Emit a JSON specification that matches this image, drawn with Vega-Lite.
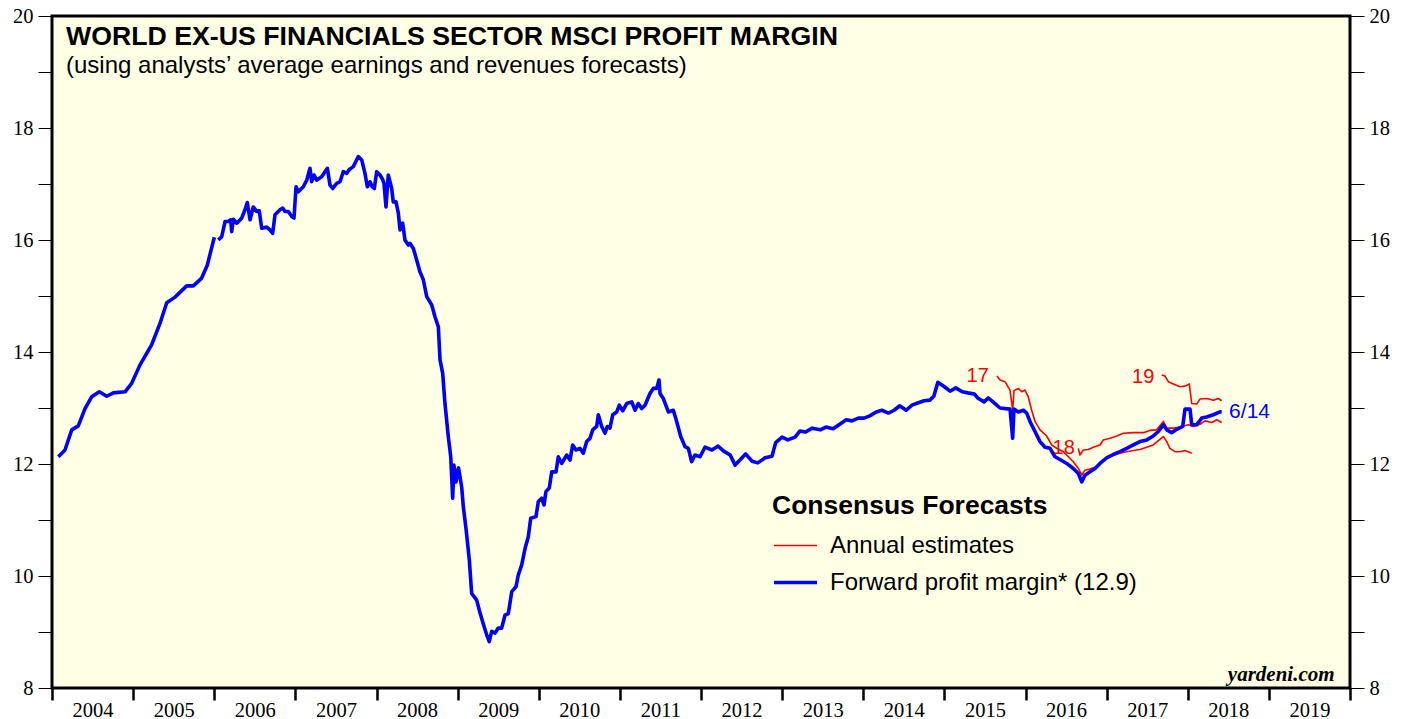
{
  "$schema": "https://vega.github.io/schema/vega-lite/v6.json",
  "width": 1298,
  "height": 672,
  "autosize": {"type": "none"},
  "padding": {"left": 52, "top": 16, "right": 57, "bottom": 31},
  "background": "white",
  "config": {
    "view": {"fill": "#FFFFE5", "stroke": "black", "strokeWidth": 3},
    "axis": {"labelColor": "black", "tickColor": "black", "grid": false, "title": null, "labelFont": "Liberation Serif", "labelFontSize": 20.5}
  },
  "title": {
    "text": "WORLD EX-US FINANCIALS SECTOR MSCI PROFIT MARGIN",
    "subtitle": "(using analysts’ average earnings and revenues forecasts)",
    "anchor": "start", "frame": "group", "orient": "top", "offset": -72, "dx": 14,
    "font": "Liberation Sans", "fontSize": 26.7, "fontWeight": "bold", "color": "black",
    "subtitleFont": "Liberation Sans", "subtitleFontSize": 24, "subtitleColor": "black", "subtitlePadding": 3
  },
  "datasets": {
    "pts": [
      {"k":"fwd","id":"a","x":2004.078,"y":12.13},{"k":"fwd","id":"a","x":2004.160,"y":12.25},{"k":"fwd","id":"a","x":2004.243,"y":12.61},{"k":"fwd","id":"a","x":2004.324,"y":12.68},{"k":"fwd","id":"a","x":2004.407,"y":12.99},{"k":"fwd","id":"a","x":2004.489,"y":13.20},{"k":"fwd","id":"a","x":2004.583,"y":13.29},{"k":"fwd","id":"a","x":2004.674,"y":13.21},{"k":"fwd","id":"a","x":2004.756,"y":13.27},{"k":"fwd","id":"a","x":2004.900,"y":13.29},{"k":"fwd","id":"a","x":2004.982,"y":13.44},{"k":"fwd","id":"a","x":2005.085,"y":13.77},{"k":"fwd","id":"a","x":2005.229,"y":14.13},{"k":"fwd","id":"a","x":2005.331,"y":14.51},{"k":"fwd","id":"a","x":2005.414,"y":14.88},{"k":"fwd","id":"a","x":2005.516,"y":14.98},{"k":"fwd","id":"a","x":2005.660,"y":15.18},{"k":"fwd","id":"a","x":2005.742,"y":15.18},{"k":"fwd","id":"a","x":2005.845,"y":15.32},{"k":"fwd","id":"a","x":2005.914,"y":15.55},{"k":"fwd","id":"a","x":2006.001,"y":16.05},
      {"k":"fwd","id":"b","x":2006.050,"y":16.00},{"k":"fwd","id":"b","x":2006.092,"y":16.06},{"k":"fwd","id":"b","x":2006.133,"y":16.33},{"k":"fwd","id":"b","x":2006.173,"y":16.33},{"k":"fwd","id":"b","x":2006.203,"y":16.36},{"k":"fwd","id":"b","x":2006.215,"y":16.15},{"k":"fwd","id":"b","x":2006.235,"y":16.37},{"k":"fwd","id":"b","x":2006.277,"y":16.30},{"k":"fwd","id":"b","x":2006.338,"y":16.39},{"k":"fwd","id":"b","x":2006.379,"y":16.54},{"k":"fwd","id":"b","x":2006.407,"y":16.67},{"k":"fwd","id":"b","x":2006.441,"y":16.36},{"k":"fwd","id":"b","x":2006.481,"y":16.59},{"k":"fwd","id":"b","x":2006.523,"y":16.51},{"k":"fwd","id":"b","x":2006.555,"y":16.52},{"k":"fwd","id":"b","x":2006.585,"y":16.21},{"k":"fwd","id":"b","x":2006.647,"y":16.23},{"k":"fwd","id":"b","x":2006.687,"y":16.18},{"k":"fwd","id":"b","x":2006.720,"y":16.12},{"k":"fwd","id":"b","x":2006.749,"y":16.45},{"k":"fwd","id":"b","x":2006.810,"y":16.54},{"k":"fwd","id":"b","x":2006.844,"y":16.57},{"k":"fwd","id":"b","x":2006.872,"y":16.51},{"k":"fwd","id":"b","x":2006.913,"y":16.51},{"k":"fwd","id":"b","x":2006.955,"y":16.42},{"k":"fwd","id":"b","x":2006.983,"y":16.39},{"k":"fwd","id":"b","x":2007.008,"y":16.95},{"k":"fwd","id":"b","x":2007.036,"y":16.86},{"k":"fwd","id":"b","x":2007.098,"y":16.95},{"k":"fwd","id":"b","x":2007.140,"y":17.07},{"k":"fwd","id":"b","x":2007.180,"y":17.28},{"k":"fwd","id":"b","x":2007.201,"y":17.04},{"k":"fwd","id":"b","x":2007.230,"y":17.16},{"k":"fwd","id":"b","x":2007.263,"y":17.07},{"k":"fwd","id":"b","x":2007.324,"y":17.13},{"k":"fwd","id":"b","x":2007.365,"y":17.22},{"k":"fwd","id":"b","x":2007.394,"y":17.28},{"k":"fwd","id":"b","x":2007.427,"y":16.98},{"k":"fwd","id":"b","x":2007.460,"y":16.92},{"k":"fwd","id":"b","x":2007.509,"y":17.01},{"k":"fwd","id":"b","x":2007.550,"y":17.04},{"k":"fwd","id":"b","x":2007.591,"y":17.22},{"k":"fwd","id":"b","x":2007.633,"y":17.19},{"k":"fwd","id":"b","x":2007.665,"y":17.26},{"k":"fwd","id":"b","x":2007.714,"y":17.31},{"k":"fwd","id":"b","x":2007.776,"y":17.49},{"k":"fwd","id":"b","x":2007.818,"y":17.43},{"k":"fwd","id":"b","x":2007.858,"y":17.19},{"k":"fwd","id":"b","x":2007.887,"y":16.95},{"k":"fwd","id":"b","x":2007.920,"y":17.04},{"k":"fwd","id":"b","x":2007.948,"y":16.95},{"k":"fwd","id":"b","x":2007.973,"y":16.92},{"k":"fwd","id":"b","x":2008.002,"y":17.22},{"k":"fwd","id":"b","x":2008.043,"y":17.16},{"k":"fwd","id":"b","x":2008.076,"y":17.08},{"k":"fwd","id":"b","x":2008.092,"y":17.01},{"k":"fwd","id":"b","x":2008.117,"y":16.59},{"k":"fwd","id":"b","x":2008.145,"y":17.16},{"k":"fwd","id":"b","x":2008.166,"y":17.04},{"k":"fwd","id":"b","x":2008.187,"y":16.92},{"k":"fwd","id":"b","x":2008.207,"y":16.68},{"k":"fwd","id":"b","x":2008.240,"y":16.68},{"k":"fwd","id":"b","x":2008.269,"y":16.48},{"k":"fwd","id":"b","x":2008.290,"y":16.18},{"k":"fwd","id":"b","x":2008.323,"y":16.30},{"k":"fwd","id":"b","x":2008.351,"y":16.00},{"k":"fwd","id":"b","x":2008.392,"y":15.91},{"k":"fwd","id":"b","x":2008.413,"y":15.94},{"k":"fwd","id":"b","x":2008.454,"y":15.85},{"k":"fwd","id":"b","x":2008.496,"y":15.64},{"k":"fwd","id":"b","x":2008.536,"y":15.43},{"k":"fwd","id":"b","x":2008.577,"y":15.29},{"k":"fwd","id":"b","x":2008.619,"y":14.99},{"k":"fwd","id":"b","x":2008.681,"y":14.84},{"k":"fwd","id":"b","x":2008.721,"y":14.63},{"k":"fwd","id":"b","x":2008.762,"y":14.45},{"k":"fwd","id":"b","x":2008.783,"y":13.86},{"k":"fwd","id":"b","x":2008.816,"y":13.62},{"k":"fwd","id":"b","x":2008.844,"y":13.08},{"k":"fwd","id":"b","x":2008.885,"y":12.49},{"k":"fwd","id":"b","x":2008.915,"y":12.13},{"k":"fwd","id":"b","x":2008.939,"y":11.39},{"k":"fwd","id":"b","x":2008.955,"y":11.98},{"k":"fwd","id":"b","x":2008.980,"y":11.68},{"k":"fwd","id":"b","x":2009.011,"y":11.93},{"k":"fwd","id":"b","x":2009.050,"y":11.59},{"k":"fwd","id":"b","x":2009.070,"y":11.24},{"k":"fwd","id":"b","x":2009.103,"y":10.85},{"k":"fwd","id":"b","x":2009.144,"y":10.29},{"k":"fwd","id":"b","x":2009.173,"y":9.69},{"k":"fwd","id":"b","x":2009.235,"y":9.57},{"k":"fwd","id":"b","x":2009.267,"y":9.39},{"k":"fwd","id":"b","x":2009.309,"y":9.18},{"k":"fwd","id":"b","x":2009.358,"y":8.95},{"k":"fwd","id":"b","x":2009.390,"y":8.83},{"k":"fwd","id":"b","x":2009.420,"y":9.01},{"k":"fwd","id":"b","x":2009.461,"y":8.98},{"k":"fwd","id":"b","x":2009.501,"y":9.07},{"k":"fwd","id":"b","x":2009.543,"y":9.07},{"k":"fwd","id":"b","x":2009.584,"y":9.30},{"k":"fwd","id":"b","x":2009.625,"y":9.33},{"k":"fwd","id":"b","x":2009.667,"y":9.72},{"k":"fwd","id":"b","x":2009.720,"y":9.81},{"k":"fwd","id":"b","x":2009.748,"y":10.02},{"k":"fwd","id":"b","x":2009.790,"y":10.20},{"k":"fwd","id":"b","x":2009.831,"y":10.49},{"k":"fwd","id":"b","x":2009.871,"y":10.70},{"k":"fwd","id":"b","x":2009.901,"y":11.03},{"k":"fwd","id":"b","x":2009.966,"y":11.06},{"k":"fwd","id":"b","x":2009.995,"y":11.33},{"k":"fwd","id":"b","x":2010.036,"y":11.39},{"k":"fwd","id":"b","x":2010.065,"y":11.27},{"k":"fwd","id":"b","x":2010.089,"y":11.51},{"k":"fwd","id":"b","x":2010.130,"y":11.57},{"k":"fwd","id":"b","x":2010.160,"y":11.86},{"k":"fwd","id":"b","x":2010.213,"y":11.86},{"k":"fwd","id":"b","x":2010.241,"y":12.13},{"k":"fwd","id":"b","x":2010.283,"y":12.01},{"k":"fwd","id":"b","x":2010.345,"y":12.16},{"k":"fwd","id":"b","x":2010.385,"y":12.07},{"k":"fwd","id":"b","x":2010.418,"y":12.34},{"k":"fwd","id":"b","x":2010.459,"y":12.25},{"k":"fwd","id":"b","x":2010.508,"y":12.28},{"k":"fwd","id":"b","x":2010.549,"y":12.19},{"k":"fwd","id":"b","x":2010.591,"y":12.40},{"k":"fwd","id":"b","x":2010.632,"y":12.46},{"k":"fwd","id":"b","x":2010.665,"y":12.61},{"k":"fwd","id":"b","x":2010.714,"y":12.67},{"k":"fwd","id":"b","x":2010.734,"y":12.88},{"k":"fwd","id":"b","x":2010.776,"y":12.67},{"k":"fwd","id":"b","x":2010.817,"y":12.55},{"k":"fwd","id":"b","x":2010.845,"y":12.67},{"k":"fwd","id":"b","x":2010.878,"y":12.64},{"k":"fwd","id":"b","x":2010.912,"y":12.88},{"k":"fwd","id":"b","x":2010.961,"y":12.93},{"k":"fwd","id":"b","x":2010.993,"y":13.05},{"k":"fwd","id":"b","x":2011.035,"y":12.95},{"k":"fwd","id":"b","x":2011.084,"y":13.08},{"k":"fwd","id":"b","x":2011.146,"y":13.11},{"k":"fwd","id":"b","x":2011.187,"y":12.96},{"k":"fwd","id":"b","x":2011.227,"y":13.08},{"k":"fwd","id":"b","x":2011.269,"y":12.99},{"k":"fwd","id":"b","x":2011.310,"y":13.05},{"k":"fwd","id":"b","x":2011.371,"y":13.26},{"k":"fwd","id":"b","x":2011.412,"y":13.35},{"k":"fwd","id":"b","x":2011.454,"y":13.35},{"k":"fwd","id":"b","x":2011.482,"y":13.50},{"k":"fwd","id":"b","x":2011.495,"y":13.26},{"k":"fwd","id":"b","x":2011.535,"y":13.17},{"k":"fwd","id":"b","x":2011.597,"y":12.93},{"k":"fwd","id":"b","x":2011.659,"y":12.96},{"k":"fwd","id":"b","x":2011.700,"y":12.76},{"k":"fwd","id":"b","x":2011.750,"y":12.49},{"k":"fwd","id":"b","x":2011.803,"y":12.31},{"k":"fwd","id":"b","x":2011.844,"y":12.28},{"k":"fwd","id":"b","x":2011.885,"y":12.04},{"k":"fwd","id":"b","x":2011.926,"y":12.16},{"k":"fwd","id":"b","x":2011.988,"y":12.13},{"k":"fwd","id":"b","x":2012.050,"y":12.30},{"k":"fwd","id":"b","x":2012.135,"y":12.25},{"k":"fwd","id":"b","x":2012.210,"y":12.32},{"k":"fwd","id":"b","x":2012.280,"y":12.23},{"k":"fwd","id":"b","x":2012.360,"y":12.16},{"k":"fwd","id":"b","x":2012.420,"y":11.98},{"k":"fwd","id":"b","x":2012.480,"y":12.07},{"k":"fwd","id":"b","x":2012.550,"y":12.18},{"k":"fwd","id":"b","x":2012.630,"y":12.05},{"k":"fwd","id":"b","x":2012.700,"y":12.02},{"k":"fwd","id":"b","x":2012.790,"y":12.11},{"k":"fwd","id":"b","x":2012.875,"y":12.14},{"k":"fwd","id":"b","x":2012.920,"y":12.38},{"k":"fwd","id":"b","x":2013.000,"y":12.48},{"k":"fwd","id":"b","x":2013.070,"y":12.43},{"k":"fwd","id":"b","x":2013.160,"y":12.48},{"k":"fwd","id":"b","x":2013.220,"y":12.59},{"k":"fwd","id":"b","x":2013.290,"y":12.57},{"k":"fwd","id":"b","x":2013.370,"y":12.64},{"k":"fwd","id":"b","x":2013.470,"y":12.61},{"k":"fwd","id":"b","x":2013.540,"y":12.66},{"k":"fwd","id":"b","x":2013.630,"y":12.63},{"k":"fwd","id":"b","x":2013.710,"y":12.71},{"k":"fwd","id":"b","x":2013.790,"y":12.79},{"k":"fwd","id":"b","x":2013.860,"y":12.77},{"k":"fwd","id":"b","x":2013.940,"y":12.82},{"k":"fwd","id":"b","x":2014.010,"y":12.82},{"k":"fwd","id":"b","x":2014.080,"y":12.86},{"k":"fwd","id":"b","x":2014.160,"y":12.93},{"k":"fwd","id":"b","x":2014.230,"y":12.96},{"k":"fwd","id":"b","x":2014.310,"y":12.91},{"k":"fwd","id":"b","x":2014.380,"y":12.96},{"k":"fwd","id":"b","x":2014.450,"y":13.04},{"k":"fwd","id":"b","x":2014.530,"y":12.96},{"k":"fwd","id":"b","x":2014.600,"y":13.05},{"k":"fwd","id":"b","x":2014.670,"y":13.09},{"k":"fwd","id":"b","x":2014.750,"y":13.13},{"k":"fwd","id":"b","x":2014.820,"y":13.14},{"k":"fwd","id":"b","x":2014.870,"y":13.21},{"k":"fwd","id":"b","x":2014.920,"y":13.46},{"k":"fwd","id":"b","x":2015.000,"y":13.38},{"k":"fwd","id":"b","x":2015.070,"y":13.30},{"k":"fwd","id":"b","x":2015.140,"y":13.36},{"k":"fwd","id":"b","x":2015.220,"y":13.29},{"k":"fwd","id":"b","x":2015.290,"y":13.27},{"k":"fwd","id":"b","x":2015.370,"y":13.25},{"k":"fwd","id":"b","x":2015.410,"y":13.18},{"k":"fwd","id":"b","x":2015.490,"y":13.11},{"k":"fwd","id":"b","x":2015.540,"y":13.18},{"k":"fwd","id":"b","x":2015.600,"y":13.11},{"k":"fwd","id":"b","x":2015.685,"y":13.00},{"k":"fwd","id":"b","x":2015.809,"y":12.98},{"k":"fwd","id":"b","x":2015.842,"y":12.46},{"k":"fwd","id":"b","x":2015.858,"y":12.98},{"k":"fwd","id":"b","x":2015.911,"y":12.93},{"k":"fwd","id":"b","x":2015.973,"y":12.96},{"k":"fwd","id":"b","x":2016.015,"y":12.91},{"k":"fwd","id":"b","x":2016.055,"y":12.76},{"k":"fwd","id":"b","x":2016.117,"y":12.58},{"k":"fwd","id":"b","x":2016.179,"y":12.40},{"k":"fwd","id":"b","x":2016.240,"y":12.30},{"k":"fwd","id":"b","x":2016.302,"y":12.28},{"k":"fwd","id":"b","x":2016.364,"y":12.13},{"k":"fwd","id":"b","x":2016.425,"y":12.08},{"k":"fwd","id":"b","x":2016.508,"y":12.01},{"k":"fwd","id":"b","x":2016.589,"y":11.92},{"k":"fwd","id":"b","x":2016.651,"y":11.83},{"k":"fwd","id":"b","x":2016.693,"y":11.68},{"k":"fwd","id":"b","x":2016.733,"y":11.80},{"k":"fwd","id":"b","x":2016.795,"y":11.86},{"k":"fwd","id":"b","x":2016.857,"y":11.92},{"k":"fwd","id":"b","x":2016.918,"y":12.01},{"k":"fwd","id":"b","x":2017.001,"y":12.11},{"k":"fwd","id":"b","x":2017.082,"y":12.17},{"k":"fwd","id":"b","x":2017.165,"y":12.22},{"k":"fwd","id":"b","x":2017.248,"y":12.28},{"k":"fwd","id":"b","x":2017.329,"y":12.34},{"k":"fwd","id":"b","x":2017.411,"y":12.40},{"k":"fwd","id":"b","x":2017.494,"y":12.43},{"k":"fwd","id":"b","x":2017.575,"y":12.50},{"k":"fwd","id":"b","x":2017.637,"y":12.58},{"k":"fwd","id":"b","x":2017.699,"y":12.70},{"k":"fwd","id":"b","x":2017.741,"y":12.61},{"k":"fwd","id":"b","x":2017.802,"y":12.56},{"k":"fwd","id":"b","x":2017.864,"y":12.62},{"k":"fwd","id":"b","x":2017.938,"y":12.67},{"k":"fwd","id":"b","x":2017.966,"y":12.98},{"k":"fwd","id":"b","x":2018.028,"y":12.98},{"k":"fwd","id":"b","x":2018.049,"y":12.70},{"k":"fwd","id":"b","x":2018.110,"y":12.70},{"k":"fwd","id":"b","x":2018.172,"y":12.82},{"k":"fwd","id":"b","x":2018.233,"y":12.84},{"k":"fwd","id":"b","x":2018.315,"y":12.88},{"k":"fwd","id":"b","x":2018.397,"y":12.93},{"k":"fwd","id":"b","x":2018.418,"y":12.93},
      {"k":"est","id":"17","x":2015.649,"y":13.57},{"k":"est","id":"17","x":2015.686,"y":13.50},{"k":"est","id":"17","x":2015.747,"y":13.47},{"k":"est","id":"17","x":2015.809,"y":13.32},{"k":"est","id":"17","x":2015.842,"y":12.96},{"k":"est","id":"17","x":2015.858,"y":13.31},{"k":"est","id":"17","x":2015.911,"y":13.35},{"k":"est","id":"17","x":2015.953,"y":13.29},{"k":"est","id":"17","x":2015.994,"y":13.32},{"k":"est","id":"17","x":2016.034,"y":13.20},{"k":"est","id":"17","x":2016.076,"y":12.96},{"k":"est","id":"17","x":2016.117,"y":12.76},{"k":"est","id":"17","x":2016.179,"y":12.61},{"k":"est","id":"17","x":2016.261,"y":12.50},{"k":"est","id":"17","x":2016.323,"y":12.34},{"k":"est","id":"17","x":2016.385,"y":12.28},{"k":"est","id":"17","x":2016.466,"y":12.22},{"k":"est","id":"17","x":2016.528,"y":12.13},{"k":"est","id":"17","x":2016.589,"y":12.04},{"k":"est","id":"17","x":2016.651,"y":11.92},{"k":"est","id":"17","x":2016.693,"y":11.80},{"k":"est","id":"17","x":2016.733,"y":11.89},{"k":"est","id":"17","x":2016.795,"y":11.91},{"k":"est","id":"17","x":2016.878,"y":11.95},{"k":"est","id":"17","x":2016.959,"y":12.07},{"k":"est","id":"17","x":2017.042,"y":12.13},{"k":"est","id":"17","x":2017.124,"y":12.18},{"k":"est","id":"17","x":2017.248,"y":12.22},{"k":"est","id":"17","x":2017.329,"y":12.24},{"k":"est","id":"17","x":2017.411,"y":12.26},{"k":"est","id":"17","x":2017.494,"y":12.30},{"k":"est","id":"17","x":2017.575,"y":12.34},{"k":"est","id":"17","x":2017.649,"y":12.43},{"k":"est","id":"17","x":2017.699,"y":12.49},{"k":"est","id":"17","x":2017.741,"y":12.40},{"k":"est","id":"17","x":2017.780,"y":12.28},{"k":"est","id":"17","x":2017.842,"y":12.22},{"k":"est","id":"17","x":2017.904,"y":12.22},{"k":"est","id":"17","x":2017.966,"y":12.24},{"k":"est","id":"17","x":2018.049,"y":12.19},
      {"k":"est","id":"18","x":2016.651,"y":12.28},{"k":"est","id":"18","x":2016.671,"y":12.16},{"k":"est","id":"18","x":2016.712,"y":12.25},{"k":"est","id":"18","x":2016.774,"y":12.26},{"k":"est","id":"18","x":2016.836,"y":12.30},{"k":"est","id":"18","x":2016.918,"y":12.34},{"k":"est","id":"18","x":2016.959,"y":12.43},{"k":"est","id":"18","x":2017.042,"y":12.46},{"k":"est","id":"18","x":2017.124,"y":12.50},{"k":"est","id":"18","x":2017.206,"y":12.55},{"k":"est","id":"18","x":2017.329,"y":12.56},{"k":"est","id":"18","x":2017.452,"y":12.56},{"k":"est","id":"18","x":2017.535,"y":12.60},{"k":"est","id":"18","x":2017.617,"y":12.61},{"k":"est","id":"18","x":2017.699,"y":12.76},{"k":"est","id":"18","x":2017.741,"y":12.64},{"k":"est","id":"18","x":2017.822,"y":12.64},{"k":"est","id":"18","x":2017.926,"y":12.67},{"k":"est","id":"18","x":2018.007,"y":12.70},{"k":"est","id":"18","x":2018.069,"y":12.67},{"k":"est","id":"18","x":2018.151,"y":12.71},{"k":"est","id":"18","x":2018.213,"y":12.77},{"k":"est","id":"18","x":2018.295,"y":12.74},{"k":"est","id":"18","x":2018.357,"y":12.79},{"k":"est","id":"18","x":2018.418,"y":12.74},
      {"k":"est","id":"19","x":2017.679,"y":13.59},{"k":"est","id":"19","x":2017.720,"y":13.57},{"k":"est","id":"19","x":2017.760,"y":13.47},{"k":"est","id":"19","x":2017.822,"y":13.43},{"k":"est","id":"19","x":2017.904,"y":13.38},{"k":"est","id":"19","x":2017.966,"y":13.39},{"k":"est","id":"19","x":2018.019,"y":13.43},{"k":"est","id":"19","x":2018.049,"y":13.08},{"k":"est","id":"19","x":2018.110,"y":13.07},{"k":"est","id":"19","x":2018.151,"y":13.16},{"k":"est","id":"19","x":2018.233,"y":13.17},{"k":"est","id":"19","x":2018.315,"y":13.14},{"k":"est","id":"19","x":2018.377,"y":13.17},{"k":"est","id":"19","x":2018.418,"y":13.13}
    ],
    "labs": [
      {"k":"est","t":"17","x":2015.41,"y":13.57},
      {"k":"est","t":"18","x":2016.47,"y":12.29},
      {"k":"est","t":"19","x":2017.45,"y":13.55},
      {"k":"fwd","t":"6/14","x":2018.51,"y":12.93}
    ]
  },
  "resolve": {"axis": {"y": "independent"}},
  "layer": [
    {
      "data": {"name": "pts"},
      "transform": [{"filter": "datum.k == 'est'"}],
      "mark": {"type": "line", "strokeJoin": "round"},
      "encoding": {
        "x": {"field": "x", "type": "quantitative", "scale": {"domain": [2004, 2020], "nice": false, "zero": false},
          "axis": {"values": [2004,2005,2006,2007,2008,2009,2010,2011,2012,2013,2014,2015,2016,2017,2018,2019,2020], "format": "d",
            "labelExpr": "datum.value < 2020 ? datum.label : ''", "labelOffset": 40.5, "labelOverlap": false, "labelBound": false, "labelFlush": false,
            "tickSize": 12, "tickWidth": 2.5, "domain": false, "labelPadding": 0}},
        "y": {"field": "y", "type": "quantitative", "scale": {"domain": [8, 20], "nice": false, "zero": false},
          "axis": {"orient": "left", "values": [8,9,10,11,12,13,14,15,16,17,18,19,20], "format": "d", "labelExpr": "datum.value % 2 == 0 ? datum.label : ''",
            "tickSize": 14, "tickWidth": 1, "domain": false, "labelPadding": 5, "labelOverlap": false, "labelBound": false, "labelFlush": false}},
        "detail": {"field": "id"},
        "color": {"field": "k", "type": "nominal", "scale": {"domain": ["est", "fwd"], "range": ["#FF0000", "#0000FF"]},
          "legend": {"orient": "none", "legendX": 720, "legendY": 477, "title": "Consensus Forecasts", "titleFont": "Liberation Sans", "titleFontSize": 26.5, "titleFontWeight": "bold", "titleColor": "black", "titlePadding": 3.5, "titleLimit": 600,
            "labelFont": "Liberation Sans", "labelFontSize": 24, "labelColor": "black", "labelLimit": 600, "symbolType": "stroke", "symbolSize": 1850, "rowPadding": 1, "labelOffset": 11,
            "labelExpr": "datum.value == 'est' ? 'Annual estimates' : 'Forward profit margin* (12.9)'"}},
        "strokeWidth": {"field": "k", "type": "ordinal", "scale": {"domain": ["est", "fwd"], "range": [1.6, 3.6]},
          "legend": {"orient": "none", "legendX": 720, "legendY": 477, "title": "Consensus Forecasts", "titleFont": "Liberation Sans", "titleFontSize": 26.5, "titleFontWeight": "bold", "titleColor": "black", "titlePadding": 3.5, "titleLimit": 600,
            "labelFont": "Liberation Sans", "labelFontSize": 24, "labelColor": "black", "labelLimit": 600, "symbolType": "stroke", "symbolSize": 1850, "rowPadding": 1, "labelOffset": 11,
            "labelExpr": "datum.value == 'est' ? 'Annual estimates' : 'Forward profit margin* (12.9)'"}}
      }
    },
    {
      "data": {"name": "pts"},
      "transform": [{"filter": "datum.k == 'fwd'"}],
      "mark": {"type": "line", "strokeJoin": "round"},
      "encoding": {
        "x": {"field": "x", "type": "quantitative"},
        "y": {"field": "y", "type": "quantitative",
          "axis": {"orient": "right", "values": [8,9,10,11,12,13,14,15,16,17,18,19,20], "format": "d", "labelExpr": "datum.value % 2 == 0 ? datum.label : ''",
            "tickSize": 14, "tickWidth": 1, "domain": false, "labelPadding": 5, "labelOverlap": false, "labelBound": false, "labelFlush": false}},
        "detail": {"field": "id"},
        "color": {"field": "k", "type": "nominal"},
        "strokeWidth": {"field": "k", "type": "ordinal"}
      }
    },
    {
      "data": {"name": "labs"},
      "transform": [{"filter": "datum.k == 'est'"}],
      "mark": {"type": "text", "font": "Liberation Sans", "fontSize": 20, "color": "#FF0000", "align": "center", "baseline": "middle"},
      "encoding": {"x": {"field": "x", "type": "quantitative"}, "y": {"field": "y", "type": "quantitative", "axis": null}, "text": {"field": "t"}}
    },
    {
      "data": {"name": "labs"},
      "transform": [{"filter": "datum.k == 'fwd'"}],
      "mark": {"type": "text", "font": "Liberation Sans", "fontSize": 21, "color": "#0000FF", "align": "left", "baseline": "middle"},
      "encoding": {"x": {"field": "x", "type": "quantitative"}, "y": {"field": "y", "type": "quantitative", "axis": null}, "text": {"field": "t"}}
    },
    {
      "data": {"values": [{}]},
      "mark": {"type": "text", "font": "Liberation Serif", "fontSize": 21, "fontStyle": "italic", "fontWeight": "bold", "color": "black", "align": "right", "baseline": "alphabetic"},
      "encoding": {"x": {"datum": 2019.81}, "y": {"datum": 8.13, "axis": null}, "text": {"value": "yardeni.com"}}
    }
  ]
}
